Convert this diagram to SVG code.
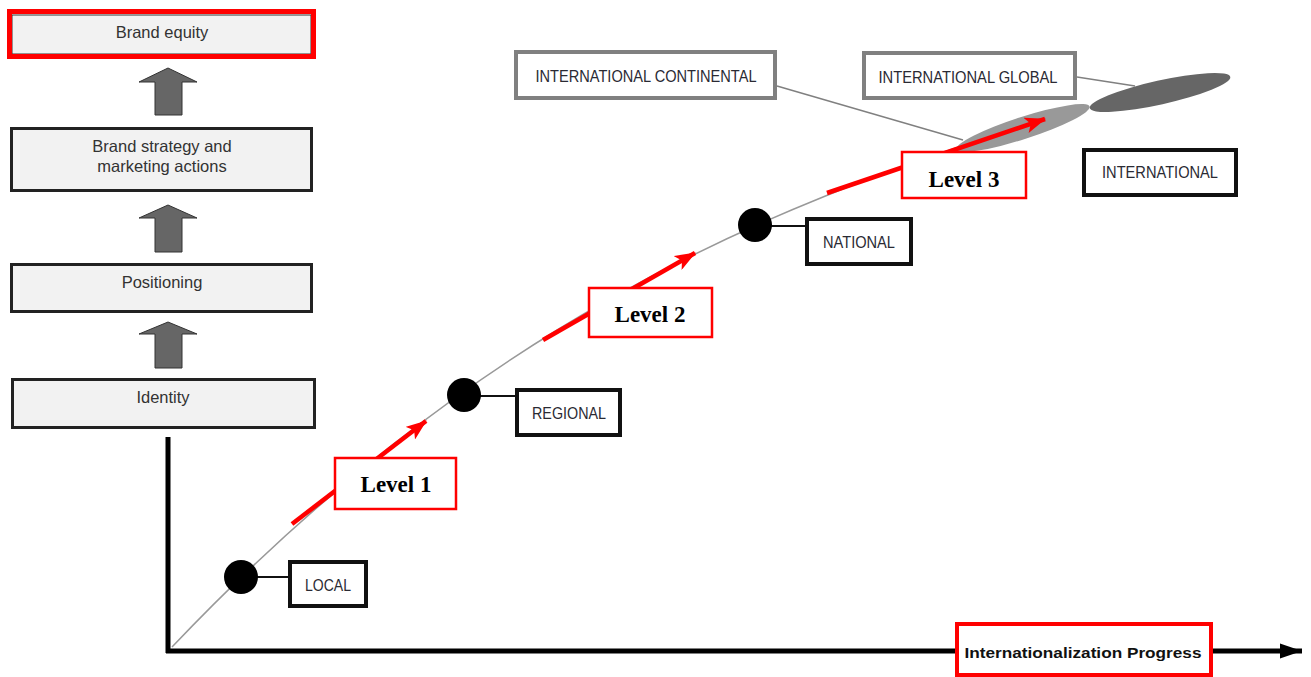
<svg xmlns="http://www.w3.org/2000/svg" width="1311" height="677" viewBox="0 0 1311 677">
<style>
.lbox{fill:#f2f2f2;stroke:#222;stroke-width:3}
.ltxt{font-family:"Liberation Sans",Arial,sans-serif;font-size:16.5px;fill:#333;text-anchor:middle}
.up{fill:#666;stroke:#333;stroke-width:1}
.sbox{fill:#fff;stroke:#111;stroke-width:4}
.gbox{fill:#fff;stroke:#808080;stroke-width:4}
.stxt{font-family:"Liberation Sans",Arial,sans-serif;font-size:17px;fill:#2a2a33;text-anchor:middle}
.rbox{fill:#fff;stroke:#f00;stroke-width:2.5}
.lvl{font-family:"Liberation Serif","Times New Roman",serif;font-weight:bold;font-size:23px;fill:#000;text-anchor:middle}
.red{stroke:#f00;stroke-width:4.5;fill:none;marker-end:url(#rh)}
.dot{fill:#000}
.tie{stroke:#111;stroke-width:2}
</style>
<defs>
<marker id="rh" markerUnits="userSpaceOnUse" markerWidth="22" markerHeight="16" refX="20" refY="8" orient="auto">
<path d="M0,0 L21,8 L0,16 L5,8 Z" fill="#f00"/>
</marker>
<marker id="bh" markerUnits="userSpaceOnUse" markerWidth="24" markerHeight="18" refX="22" refY="9" orient="auto">
<path d="M0,1.5 L22,9 L0,16.5 Z" fill="#000"/>
</marker>
</defs>

<g id="brand-equity">
<rect x="12" y="15" width="299" height="39" fill="#f2f2f2" stroke="#333" stroke-width="1"/>
<rect x="9.5" y="11.5" width="304" height="45" fill="none" stroke="#f00" stroke-width="5"/>
<text class="ltxt" x="162" y="38">Brand equity</text>
</g>
<g id="brand-strategy">
<rect class="lbox" x="11.5" y="128.5" width="300" height="62"/>
<text class="ltxt" x="162" y="152">Brand strategy and</text>
<text class="ltxt" x="162" y="172">marketing actions</text>
</g>
<g id="positioning">
<rect class="lbox" x="11.5" y="264.5" width="300" height="47"/>
<text class="ltxt" x="162" y="288">Positioning</text>
</g>
<g id="identity">
<rect class="lbox" x="12.5" y="379.5" width="302" height="48"/>
<text class="ltxt" x="163" y="403">Identity</text>
</g>

<g id="up-arrows">
<path class="up" d="M168,68 L197,82 L182,82 L182,115 L155,115 L155,82 L139,82 Z"/>
<path class="up" d="M168,205 L197,218 L182,218 L182,252 L155,252 L155,218 L139,218 Z"/>
<path class="up" d="M168,322 L197,334 L182,334 L182,368 L155,368 L155,334 L139,334 Z"/>
</g>

<g id="connectors">
<path d="M172,647 C472,332 745,212 1045,119" fill="none" stroke="#999" stroke-width="1.5"/>
<line x1="777" y1="86" x2="963" y2="140" stroke="#808080" stroke-width="1.5"/>
<line x1="1077" y1="77" x2="1135" y2="86" stroke="#808080" stroke-width="1.5"/>
<line class="tie" x1="241" y1="577" x2="290" y2="577"/>
<line class="tie" x1="464" y1="396" x2="517" y2="396"/>
<line class="tie" x1="755" y1="226" x2="807" y2="226"/>
<line x1="168" y1="437" x2="168" y2="653" stroke="#000" stroke-width="5"/>
<line x1="166" y1="651" x2="1302" y2="651" stroke="#000" stroke-width="5" marker-end="url(#bh)"/>
</g>

<g id="ellipses">
<ellipse cx="1023" cy="128" rx="70" ry="11" transform="rotate(-17.9 1023 128)" fill="#999"/>
<ellipse cx="1160" cy="92.5" rx="72" ry="12" transform="rotate(-12.5 1160 92.5)" fill="#666"/>
</g>

<g id="red-arrows">
<line class="red" x1="292" y1="524" x2="426" y2="421"/>
<line class="red" x1="543" y1="340" x2="695" y2="253"/>
<line class="red" x1="827" y1="193" x2="1045" y2="119"/>
</g>

<g id="dots">
<circle class="dot" cx="241" cy="577" r="17"/>
<circle class="dot" cx="464" cy="395" r="17"/>
<circle class="dot" cx="755" cy="225" r="17"/>
</g>

<g id="local">
<rect class="sbox" x="290" y="562" width="76" height="44"/>
<text class="stxt" x="328" y="591" textLength="46" lengthAdjust="spacingAndGlyphs">LOCAL</text>
</g>
<g id="regional">
<rect class="sbox" x="517" y="390" width="103" height="45"/>
<text class="stxt" x="569" y="419" textLength="74" lengthAdjust="spacingAndGlyphs">REGIONAL</text>
</g>
<g id="national">
<rect class="sbox" x="807" y="219" width="104" height="45"/>
<text class="stxt" x="859" y="248" textLength="72" lengthAdjust="spacingAndGlyphs">NATIONAL</text>
</g>
<g id="international">
<rect class="sbox" x="1084" y="150" width="152" height="45"/>
<text class="stxt" x="1160" y="178" textLength="116" lengthAdjust="spacingAndGlyphs">INTERNATIONAL</text>
</g>
<g id="international-continental">
<rect class="gbox" x="516" y="52" width="259" height="46"/>
<text class="stxt" x="646" y="82" textLength="221" lengthAdjust="spacingAndGlyphs">INTERNATIONAL CONTINENTAL</text>
</g>
<g id="international-global">
<rect class="gbox" x="864" y="53" width="211" height="45"/>
<text class="stxt" x="968" y="83" textLength="179" lengthAdjust="spacingAndGlyphs">INTERNATIONAL GLOBAL</text>
</g>

<g id="level1">
<rect class="rbox" x="335" y="458" width="121" height="51"/>
<text class="lvl" x="396" y="492">Level 1</text>
</g>
<g id="level2">
<rect class="rbox" x="589" y="288" width="123" height="49"/>
<text class="lvl" x="650" y="322">Level 2</text>
</g>
<g id="level3">
<rect class="rbox" x="902" y="152" width="124" height="46"/>
<text class="lvl" x="964" y="187">Level 3</text>
</g>

<g id="progress">
<rect x="957" y="624" width="254" height="51" fill="#fff" stroke="#f00" stroke-width="4"/>
<text x="1083" y="658" font-family="'Liberation Sans',Arial,sans-serif" font-weight="bold" font-size="15" fill="#111" text-anchor="middle" textLength="237" lengthAdjust="spacingAndGlyphs">Internationalization Progress</text>
</g>
</svg>
